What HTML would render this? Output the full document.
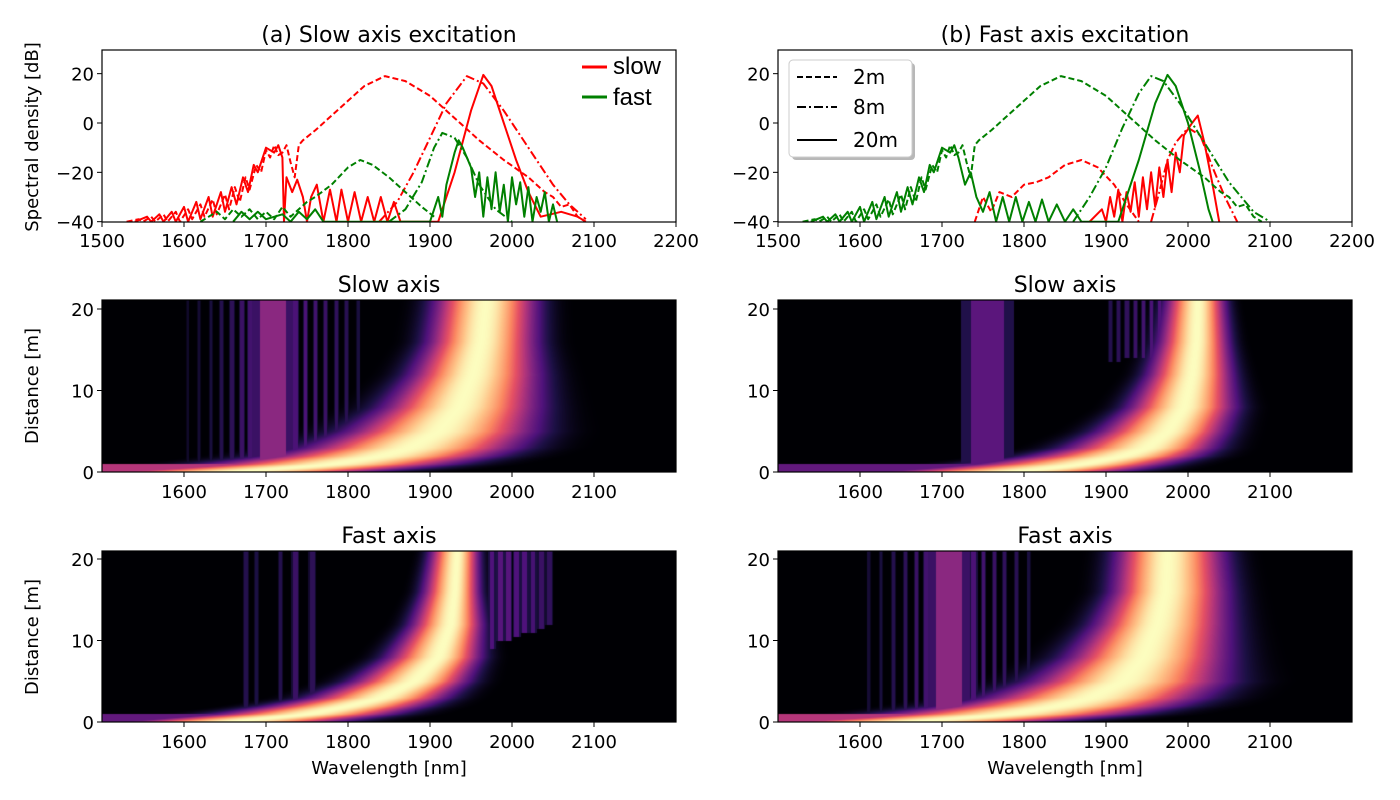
<!DOCTYPE html>
<html><head><meta charset="utf-8"><style>
body{margin:0;background:#fff;width:1400px;height:800px;overflow:hidden;font-family:"DejaVu Sans",sans-serif}
#wrap{position:relative;width:1400px;height:800px}
canvas{position:absolute}
svg{position:absolute;left:0;top:0}
</style></head><body>
<div id="wrap">
<canvas id="hm0" width="574" height="172" style="left:102px;top:300px"></canvas>
<canvas id="hm1" width="574" height="172" style="left:778px;top:300px"></canvas>
<canvas id="hm2" width="574" height="171" style="left:102px;top:551px"></canvas>
<canvas id="hm3" width="574" height="171" style="left:778px;top:551px"></canvas>
<svg id="svg" width="1400" height="800"></svg>
</div>
<script>
// ---- line plot data: [wavelength nm, dB, ...] ----
const aRedDash = [1530,-40,1545,-39,1550,-40,1560,-38,1565,-40,1575,-37,1580,-40,1590,-36,1595,-40,1605,-35,1610,-39,1620,-33,1625,-38,1635,-31,1640,-37,1650,-29,1655,-35,1662,-26,1668,-32,1675,-22,1680,-27,1688,-17,1694,-20,1700,-11,1705,-14,1710,-9,1715,-13,1720,-12,1725,-9,1730,-16,1735,-22,1740,-9,1745,-7,1760,-3,1780,3,1800,9,1820,15,1845,19,1870,17,1900,11,1930,2,1960,-7,1990,-15,2020,-22,2040,-28,2050,-30,2060,-34,2070,-33,2080,-38,2090,-40];
const aRedDashDot = [1838,-40,1860,-32,1880,-20,1900,-6,1920,8,1945,19,1965,16,1990,5,2020,-10,2050,-25,2070,-33,2090,-39];
const aRedSolid = [1540,-40,1555,-38,1560,-40,1570,-37,1575,-40,1585,-36,1590,-40,1600,-34,1605,-40,1615,-32,1620,-39,1630,-30,1635,-38,1645,-28,1650,-36,1658,-26,1664,-33,1672,-22,1678,-28,1685,-17,1690,-20,1700,-10,1710,-12,1715,-9,1720,-14,1722,-40,1725,-22,1732,-28,1738,-23,1745,-30,1750,-40,1755,-30,1762,-25,1770,-40,1778,-27,1786,-40,1792,-27,1800,-40,1808,-28,1816,-40,1824,-30,1832,-40,1840,-30,1848,-40,1856,-32,1864,-40,1910,-40,1930,-20,1950,5,1965,19.5,1975,15,1990,0,2005,-15,2020,-28,2035,-38,2060,-36,2080,-38,2090,-40];
const aGreenDash = [1620,-40,1640,-36,1650,-39,1660,-35,1670,-38,1680,-35,1690,-39,1700,-36,1710,-39,1720,-34,1730,-38,1740,-35,1750,-32,1760,-30,1780,-25,1800,-18,1815,-15,1830,-17,1850,-22,1870,-28,1890,-34,1905,-38];
const aGreenDashDot = [1850,-40,1870,-35,1890,-24,1905,-10,1915,-4,1930,-6,1945,-14,1960,-25,1980,-35,2000,-40];
const aGreenSolid = [1660,-40,1670,-36,1680,-39,1690,-36,1700,-39,1720,-37,1730,-40,1740,-36,1750,-39,1760,-35,1770,-40,1900,-40,1910,-30,1915,-38,1920,-25,1930,-12,1935,-7,1940,-10,1950,-18,1955,-30,1960,-20,1965,-38,1970,-22,1975,-35,1980,-20,1985,-36,1990,-25,1995,-40,2000,-22,2005,-33,2010,-24,2015,-38,2020,-26,2025,-40,2030,-30,2035,-36,2040,-28,2045,-40,2050,-33,2055,-40];
const bGreenDash = aRedDash;
const bGreenDashDot = [1860,-40,1880,-30,1900,-18,1920,-2,1940,12,1955,19,1970,17,1990,8,2020,-8,2050,-24,2080,-36,2100,-40];
const bGreenSolid = [1540,-40,1555,-38,1560,-40,1570,-37,1575,-40,1585,-36,1590,-40,1600,-34,1605,-40,1615,-32,1620,-39,1630,-30,1635,-38,1645,-28,1650,-36,1658,-26,1664,-33,1672,-22,1678,-28,1685,-17,1690,-20,1700,-10,1710,-12,1715,-9,1720,-14,1728,-25,1735,-20,1742,-30,1750,-36,1758,-28,1766,-40,1774,-30,1782,-40,1790,-30,1798,-40,1806,-32,1814,-40,1822,-31,1830,-40,1840,-33,1850,-40,1860,-35,1870,-40,1915,-40,1940,-15,1960,8,1975,19.5,1985,15,2000,0,2015,-20,2025,-35,2030,-40];
const bRedDash = [1740,-40,1750,-30,1760,-36,1770,-28,1785,-30,1800,-25,1815,-24,1830,-22,1850,-17,1870,-15,1890,-18,1910,-25,1925,-33,1940,-40];
const bRedDashDot = [1955,-40,1965,-28,1975,-15,1985,-8,2000,-2,2015,-5,2030,-18,2045,-30,2060,-40];
const bRedSolid = [1880,-40,1895,-35,1900,-40,1905,-30,1910,-38,1915,-27,1920,-40,1925,-28,1930,-36,1935,-24,1940,-38,1945,-22,1950,-35,1955,-20,1960,-34,1965,-18,1970,-30,1975,-15,1980,-28,1985,-12,1990,-20,1995,-5,2005,0,2012,3,2020,-8,2030,-25,2038,-40];
const xTicksTop = [1500,1600,1700,1800,1900,2000,2100,2200];
const yTicksTop = [20,0,-20,-40];
const xTicksHm = [1600,1700,1800,1900,2000,2100];
const yTicksHm = [0,10,20];

// ---- heatmap ridge data (distance m, centre nm, left/right half-widths nm) ----
const hmZ = [0,0.5,1,2,3,5,8,12,16,21.2];
const hm0C = [1650,1720,1780,1840,1875,1910,1935,1952,1962,1968];
const hm0L = [310,300,275,250,230,205,170,140,120,115];
const hm0R = [300,290,265,250,240,215,180,150,125,115];
const hm1C = [1780,1830,1870,1920,1950,1975,1995,2005,2010,2012];
const hm1L = [300,275,240,205,180,155,125,100,85,72];
const hm1R = [240,215,190,170,150,130,115,90,72,60];
const hm2C = [1650,1700,1750,1800,1840,1880,1910,1925,1930,1933];
const hm2L = [240,230,205,180,160,140,115,90,72,60];
const hm2R = [240,215,190,170,145,120,95,72,55,48];
const hm3C = [1650,1720,1780,1840,1880,1920,1945,1962,1972,1975];
const hm3L = [310,300,275,250,230,205,170,140,120,115];
const hm3R = [300,290,275,265,250,230,190,160,140,125];
// stripes: [lambda centre, half-width nm, level, zStart, zEnd]
const hm0Stripes = [[1708,16,0.4,1,22],[1604,1,0.08,1,22],[1618,1.5,0.1,1,22],[1632,1.5,0.12,1,22],[1645,2,0.15,1,22],[1658,2,0.17,1,22],[1670,2,0.2,1,22],[1680,2.5,0.22,1,22],[1735,3,0.24,1,22],[1748,2,0.24,1,22],[1760,2,0.22,1,22],[1772,2,0.2,1,22],[1785,2,0.18,1,22],[1798,2,0.16,1,22],[1812,1.5,0.12,1,22]];
const hm1Stripes = [[1755,20,0.28,1,22],[1738,2,0.12,1,22],[1905,2,0.15,13.5,22],[1915,2,0.17,13.5,22],[1925,2,0.18,14,22],[1935,2,0.2,14,22],[1945,2,0.22,14,22],[1955,2,0.24,14,22],[1965,2,0.25,15,22],[1975,2,0.25,15,22],[1985,2,0.25,15,22]];
const hm2Stripes = [[1675,2,0.15,1,22],[1688,2,0.13,1,22],[1717,2,0.15,1,22],[1735,3,0.2,1,22],[1756,3,0.17,1,22],[1975,3,0.25,9,22],[1985,3,0.27,10,22],[1995,3,0.27,10,22],[2005,3,0.25,10.5,22],[2015,3,0.25,11,22],[2025,3,0.23,11,22],[2035,3,0.2,11.5,22],[2045,3,0.18,12,22]];
const hm3Stripes = [[1708,16,0.4,1,22],[1610,1.5,0.1,1,22],[1625,1.5,0.12,1,22],[1640,2,0.15,1,22],[1655,2,0.17,1,22],[1668,2,0.2,1,22],[1680,2.5,0.22,1,22],[1738,3,0.24,1,22],[1750,2,0.22,1,22],[1763,2,0.2,1,22],[1776,2,0.18,1,22],[1790,2,0.16,1,22],[1805,1.5,0.12,1,22]];
// seed band at z<1: [lambda end, level]
const hmSeed = [[1720,0.5],[1780,0.3],[1680,0.3],[1720,0.5]];

const magma = [[0,0,0,4],[0.13,28,16,68],[0.25,79,18,123],[0.38,129,37,129],[0.5,181,54,122],[0.63,229,80,100],[0.75,251,135,97],[0.88,254,194,135],[1,252,253,191]];
function cmap(v){v=Math.max(0,Math.min(1,v));for(let i=1;i<magma.length;i++){if(v<=magma[i][0]){const a=magma[i-1],b=magma[i],t=(v-a[0])/(b[0]-a[0]);return [a[1]+t*(b[1]-a[1]),a[2]+t*(b[2]-a[2]),a[3]+t*(b[3]-a[3])];}}return magma[magma.length-1].slice(1);}
function interp(xs,ys,x){if(x<=xs[0])return ys[0];for(let i=1;i<xs.length;i++){if(x<=xs[i]){const t=(x-xs[i-1])/(xs[i]-xs[i-1]);return ys[i-1]+t*(ys[i]-ys[i-1]);}}return ys[ys.length-1];}
function drawHM(id,C,L,R,S,seed){
  const cv=document.getElementById(id),ctx=cv.getContext('2d'),W=cv.width,H=cv.height;
  const img=ctx.createImageData(W,H);
  for(let py=0;py<H;py++){
    const z=(H-py)/8.15;
    const c=interp(hmZ,C,z),l=interp(hmZ,L,z),r=interp(hmZ,R,z);
    for(let px=0;px<W;px++){
      const lam=1500+px/0.82;
      const d=Math.abs((lam-c)/(lam<c?l:r));
      let v=Math.max(0,1-d*d);v=Math.pow(v,3.6);
      if(z<1.1){ if(lam<seed[0]) v=Math.max(v,seed[1]); }
      for(const s of S){ if(z>=s[3]&&z<=s[4]){const e=Math.abs(lam-s[0]);if(e<s[1]*1.6)v=Math.max(v,s[2]*(e<s[1]?1:0.5));} }
      const col=cmap(v),k=(py*W+px)*4;
      img.data[k]=col[0];img.data[k+1]=col[1];img.data[k+2]=col[2];img.data[k+3]=255;
    }
  }
  ctx.putImageData(img,0,0);
}
drawHM('hm0',hm0C,hm0L,hm0R,hm0Stripes,hmSeed[0]);
drawHM('hm1',hm1C,hm1L,hm1R,hm1Stripes,hmSeed[1]);
drawHM('hm2',hm2C,hm2L,hm2R,hm2Stripes,hmSeed[2]);
drawHM('hm3',hm3C,hm3L,hm3R,hm3Stripes,hmSeed[3]);

const NS='http://www.w3.org/2000/svg',svg=document.getElementById('svg');
function el(tag,attrs,parent){const e=document.createElementNS(NS,tag);for(const k in attrs)e.setAttribute(k,attrs[k]);(parent||svg).appendChild(e);return e;}
function txt(x,y,s,size,anchor,name,rot,fam){const t=el('text',{x:x,y:y,'font-size':size,'text-anchor':anchor||'middle','font-family':fam||'DejaVu Sans, sans-serif',fill:'#000'});if(rot)t.setAttribute('transform','rotate(-90 '+x+' '+y+')');t.textContent=s;


return t;}
function xs(ox,l){return ox+(l-1500)*0.82;}
function ysTop(d){return 123-d*2.467;}
function drawTop(ox,series,tag){
  const g=el('g',{});
  
  
  const cp=el('clipPath',{id:'cp'+tag},g);el('rect',{x:ox,y:50,width:574,height:172},cp);
  for(const s of series){
    let d='';for(let i=0;i<s.data.length;i+=2){d+=(i?'L':'M')+xs(ox,s.data[i]).toFixed(1)+' '+ysTop(s.data[i+1]).toFixed(1);}
    const p=el('path',{d:d,fill:'none',stroke:s.color,'stroke-width':2,'stroke-dasharray':s.dash,'clip-path':'url(#cp'+tag+')','stroke-linejoin':'round'},g);
    
    
  }
  el('rect',{x:ox,y:50,width:574,height:172,fill:'none',stroke:'#000','stroke-width':1.2},g);
  for(const t of xTicksTop){const x=xs(ox,t);el('line',{x1:x,x2:x,y1:222,y2:227,stroke:'#000'},g);txt(x,247,String(t),18,'middle','x-tick-label');}
  for(const t of yTicksTop){const y=ysTop(t);el('line',{x1:ox-5,x2:ox,y1:y,y2:y,stroke:'#000'},g);txt(ox-8,y+7,t<0?'\u2212'+(-t):String(t),18,'end','y-tick-label');}
}
const DASH='6,3',DDOT='9,3,2,3';
drawTop(102,[
 {data:aRedDash,color:'#ff0000',dash:DASH,name:'a-slow-2m'},{data:aRedDashDot,color:'#ff0000',dash:DDOT,name:'a-slow-8m'},{data:aRedSolid,color:'#ff0000',dash:'none',name:'a-slow-20m'},
 {data:aGreenDash,color:'#008000',dash:DASH,name:'a-fast-2m'},{data:aGreenDashDot,color:'#008000',dash:DDOT,name:'a-fast-8m'},{data:aGreenSolid,color:'#008000',dash:'none',name:'a-fast-20m'}],'a');
drawTop(778,[
 {data:bRedDash,color:'#ff0000',dash:DASH,name:'b-slow-2m'},{data:bRedDashDot,color:'#ff0000',dash:DDOT,name:'b-slow-8m'},{data:bRedSolid,color:'#ff0000',dash:'none',name:'b-slow-20m'},
 {data:bGreenDash,color:'#008000',dash:DASH,name:'b-fast-2m'},{data:bGreenDashDot,color:'#008000',dash:DDOT,name:'b-fast-8m'},{data:bGreenSolid,color:'#008000',dash:'none',name:'b-fast-20m'}],'b');

function hmAxes(ox,top,h){
  el('rect',{x:ox,y:top,width:574,height:h,fill:'none',stroke:'#000','stroke-width':1.2});
  const bot=top+h;
  for(const t of xTicksHm){const x=xs(ox,t);el('line',{x1:x,x2:x,y1:bot,y2:bot+5,stroke:'#000'});txt(x,bot+26,String(t),18,'middle','x-tick-label');}
  for(const t of yTicksHm){const y=bot-t*8.15;el('line',{x1:ox-5,x2:ox,y1:y,y2:y,stroke:'#000'});txt(ox-8,y+7,String(t),18,'end','y-tick-label');}
}
hmAxes(102,300,172);hmAxes(778,300,172);hmAxes(102,551,171);hmAxes(778,551,171);

txt(389,42,'(a) Slow axis excitation',22,'middle','title-a');
txt(1065,42,'(b) Fast axis excitation',22,'middle','title-b');
txt(389,292,'Slow axis',22,'middle','title-slow-axis-a');
txt(1065,292,'Slow axis',22,'middle','title-slow-axis-b');
txt(389,543,'Fast axis',22,'middle','title-fast-axis-a');
txt(1065,543,'Fast axis',22,'middle','title-fast-axis-b');
txt(38,137,'Spectral density [dB]',18,'middle','y-axis-title-top',true);
txt(38,386,'Distance [m]',18,'middle','y-axis-title-mid',true);
txt(38,637,'Distance [m]',18,'middle','y-axis-title-bottom',true);
txt(389,774,'Wavelength [nm]',18,'middle','x-axis-title-a');
txt(1065,774,'Wavelength [nm]',18,'middle','x-axis-title-b');

// legend a
const lg=el('g',{});
el('line',{x1:582,x2:607,y1:67,y2:67,stroke:'#ff0000','stroke-width':3},lg);
el('line',{x1:582,x2:607,y1:97,y2:97,stroke:'#008000','stroke-width':3},lg);
txt(613,74,'slow',24,'start','legend-slow',false,'Liberation Sans, sans-serif');
txt(613,105,'fast',24,'start','legend-fast',false,'Liberation Sans, sans-serif');
// legend b
const lb=el('g',{});
el('rect',{x:792,y:63,width:123,height:97,rx:4,fill:'#888','opacity':0.6},lb);
el('rect',{x:789,y:60,width:123,height:97,rx:4,fill:'#fff',stroke:'#ccc'},lb);
el('line',{x1:797,x2:837,y1:77,y2:77,stroke:'#000','stroke-width':2,'stroke-dasharray':'6,3'},lb);
el('line',{x1:797,x2:837,y1:107,y2:107,stroke:'#000','stroke-width':2,'stroke-dasharray':DDOT},lb);
el('line',{x1:797,x2:837,y1:140,y2:140,stroke:'#000','stroke-width':2},lb);
txt(853,84,'2m',20,'start','legend-2m');
txt(853,114,'8m',20,'start','legend-8m');
txt(853,147,'20m',20,'start','legend-20m');
</script>
</body></html>
